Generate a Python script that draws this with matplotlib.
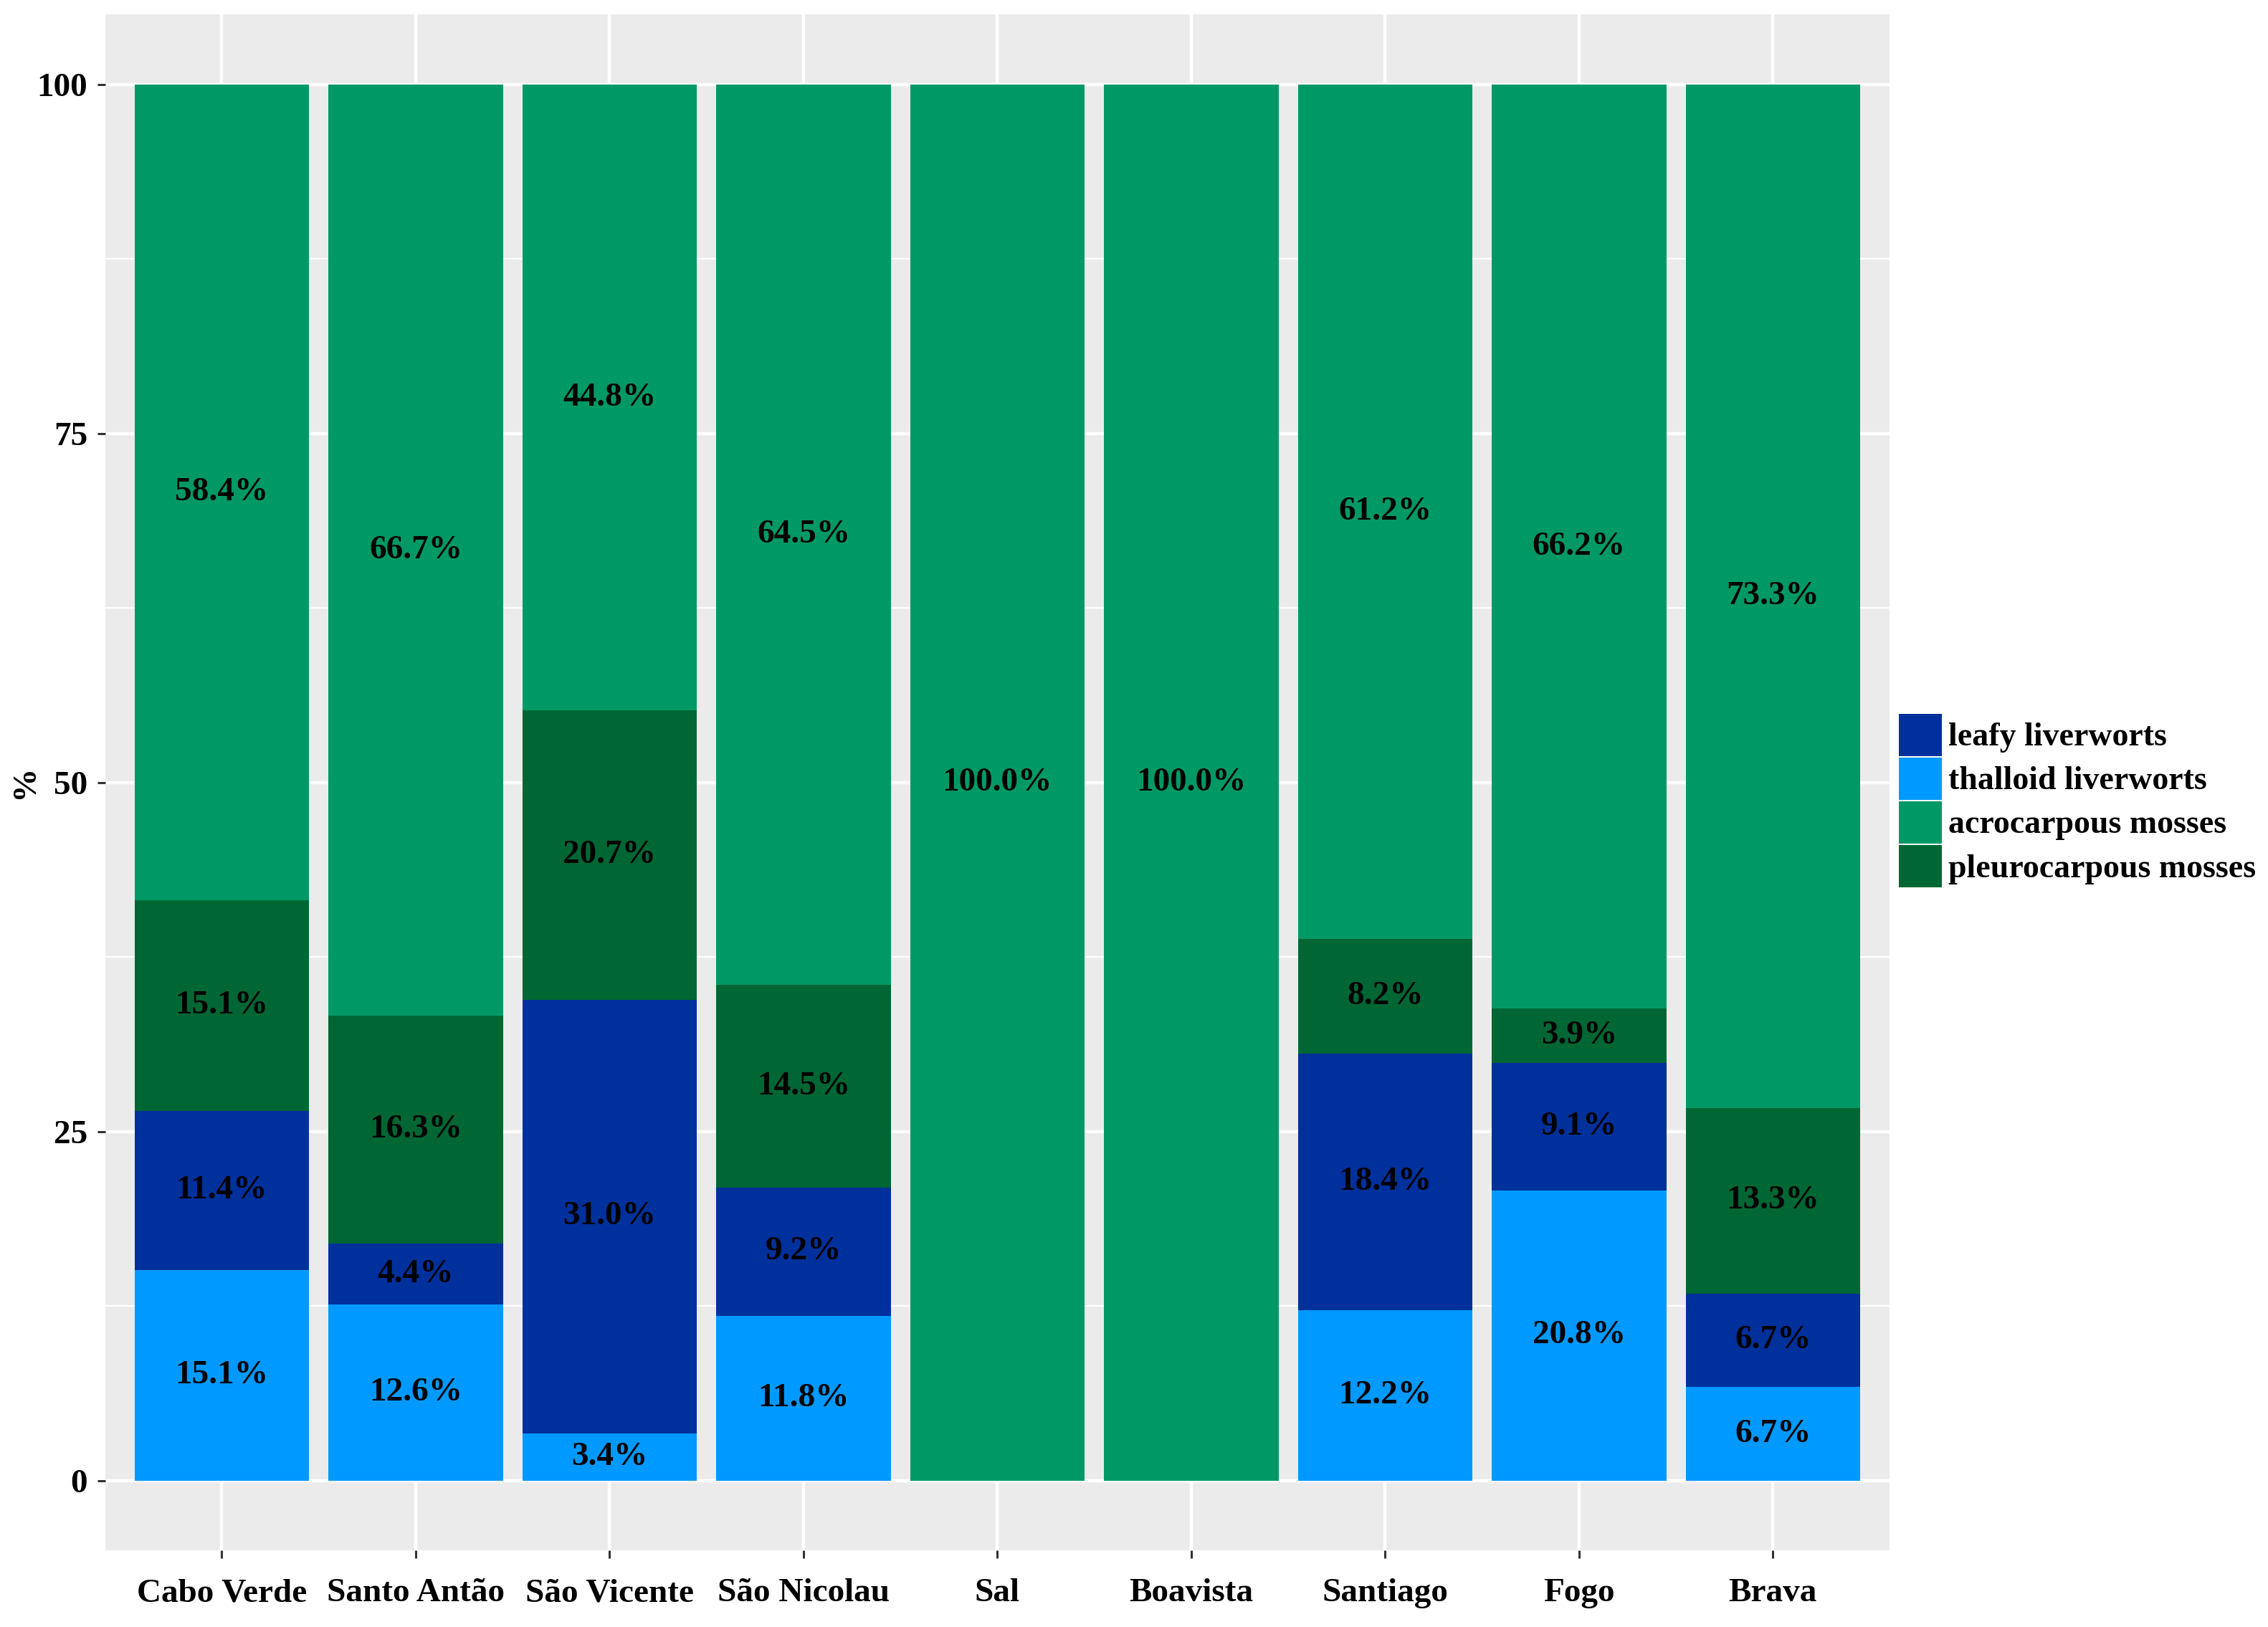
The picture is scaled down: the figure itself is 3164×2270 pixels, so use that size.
import numpy as np
import matplotlib.pyplot as plt
from matplotlib.patches import Patch

plt.rcParams['font.family'] = ['Liberation Serif', 'DejaVu Serif']
plt.rcParams['font.weight'] = 'bold'

islands = ['Cabo Verde', 'Santo Antão', 'São Vicente', 'São Nicolau', 'Sal',
           'Boavista', 'Santiago', 'Fogo', 'Brava']
# stacked from bottom to top
thalloid = [15.1, 12.6, 3.4, 11.8, 0, 0, 12.2, 20.8, 6.7]
leafy = [11.4, 4.4, 31.0, 9.2, 0, 0, 18.4, 9.1, 6.7]
pleuro = [15.1, 16.3, 20.7, 14.5, 0, 0, 8.2, 3.9, 13.3]
acro = [58.4, 66.7, 44.8, 64.5, 100.0, 100.0, 61.2, 66.2, 73.3]

groups = ['thalloid liverworts', 'leafy liverworts', 'pleurocarpous mosses', 'acrocarpous mosses']
series = [thalloid, leafy, pleuro, acro]
colors = {'leafy liverworts': '#00309b',
          'thalloid liverworts': '#0099ff',
          'acrocarpous mosses': '#009966',
          'pleurocarpous mosses': '#006633'}

fig = plt.figure(figsize=(15.82, 11.35), dpi=200)
ax = fig.add_axes([0.0465, 0.047, 0.7865, 0.944])
ax.set_facecolor('#ebebeb')

x = np.arange(len(islands))
# position="fill": each bar is scaled to 100
totals = np.sum(np.array(series, dtype=float), axis=0)
bottom = np.zeros(len(islands))
for name, vals in zip(groups, series):
    vals = np.array(vals, dtype=float)
    h = vals / totals * 100
    ax.bar(x, h, 0.9, bottom=bottom, color=colors[name], zorder=3)
    for xi, b, hv, v in zip(x, bottom, h, vals):
        if v > 0:
            ax.text(xi, b + hv / 2, f'{v:.1f}%', ha='center', va='center',
                    fontsize=17, fontweight='bold', zorder=4)
    bottom += h

ax.set_xlim(-0.6, len(islands) - 0.4)
ax.set_ylim(-5, 105)
ax.set_yticks([0, 25, 50, 75, 100])
ax.set_yticks([12.5, 37.5, 62.5, 87.5], minor=True)
ax.set_xticks(x)
ax.set_xticklabels(islands)
ax.grid(which='major', color='white', linewidth=1.6, zorder=0)
ax.grid(which='minor', axis='y', color='white', linewidth=0.8, zorder=0)
ax.tick_params(axis='both', which='major', length=4, width=1.1, color='#333333',
               labelsize=17, pad=5)
ax.tick_params(axis='x', pad=10)
ax.tick_params(which='minor', length=0)
for s in ax.spines.values():
    s.set_visible(False)
ax.set_ylabel('%', fontsize=17, fontweight='bold', va='center')
ax.yaxis.set_label_coords(-0.045, 0.5)

handles = [Patch(facecolor=colors[g], edgecolor='none', label=g)
           for g in ['leafy liverworts', 'thalloid liverworts', 'acrocarpous mosses', 'pleurocarpous mosses']]
fig.legend(handles=handles, loc='center left', bbox_to_anchor=(0.8315, 0.508),
           frameon=False, fontsize=16.5, handlelength=1.3, handleheight=1.6,
           handletextpad=0.2, labelspacing=0.05, borderaxespad=0)

fig.savefig('out.png', dpi=200)
